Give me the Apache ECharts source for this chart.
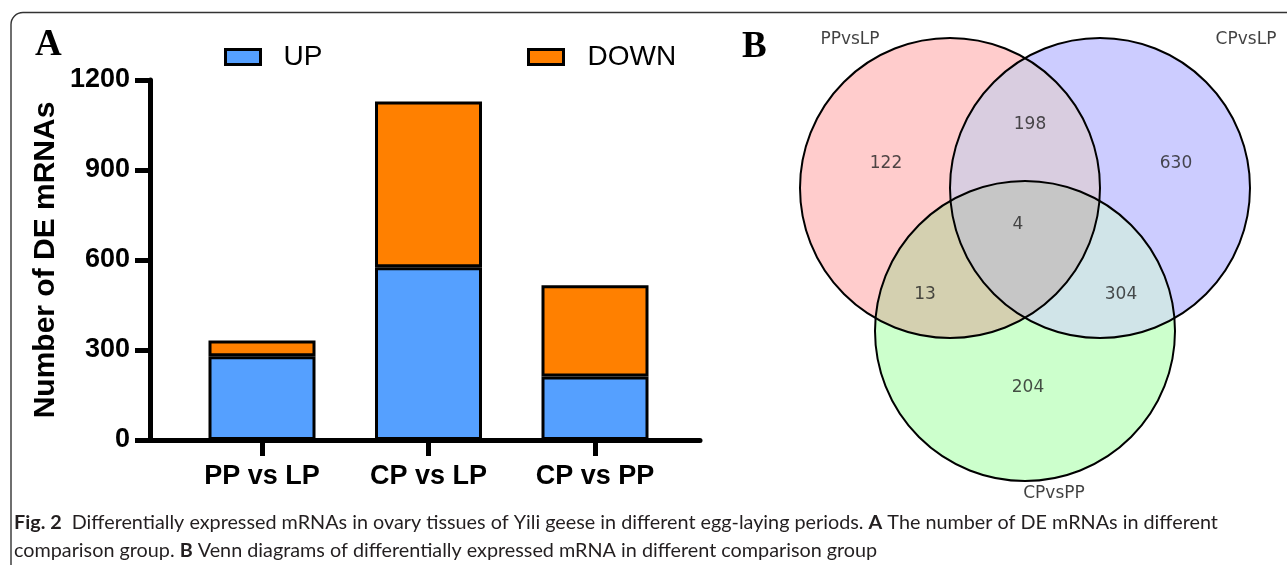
<!DOCTYPE html>
<html>
<head>
<meta charset="utf-8">
<script src="https://cdn.jsdelivr.net/npm/echarts@6/dist/echarts.min.js"></script>
<style>
  html, body { margin: 0; padding: 0; background: #fff; }
  #chart { width: 1287px; height: 565px; }
</style>
</head>
<body>
<div id="chart"></div>
<script>
// ---- Panel A: DE mRNA counts per comparison ----
const categories = ['PP vs LP', 'CP vs LP', 'CP vs PP'];
const upCounts = [279, 576, 212];
const downCounts = [53, 552, 304];
const seriesNames = ['UP', 'DOWN'];
const yMax = 1200;
const yStep = 300;
const yAxisTitle = 'Number of DE mRNAs';

// ---- Panel B: Venn diagram ----
const vennSetNames = ['PPvsLP', 'CPvsLP', 'CPvsPP'];
// region keys: which sets a region belongs to (0 = PPvsLP, 1 = CPvsLP, 2 = CPvsPP)
const vennRegionSets = [[0], [1], [2], [0, 1], [0, 2], [1, 2], [0, 1, 2]];
const vennRegionCounts = [122, 630, 204, 198, 13, 304, 4];

const captionLine1 = ['Fig. 2', 'Differentially expressed mRNAs in ovary tissues of Yili geese in different egg-laying periods.', 'A', 'The number of DE mRNAs in different'];
const captionLine2 = ['comparison group.', 'B', 'Venn diagrams of differentially expressed mRNA in different comparison group'];

// ---- layout & style (drawing units of the Venn grid) ----
const VENN = {
  radius: 150,
  centers: [[180, 168], [330, 168], [255, 311]],
  setLabelPos: [[80, 20], [476, 20], [284, 474]],
  regionLabelPos: [[116, 144], [406, 144], [258, 368], [260, 105], [155, 275], [351, 275], [248, 205]],
  setFill: ['#FFCCCC', '#CCCCFF', '#CCFFCC'],
  pairFill: { '0,1': '#D9CDE0', '0,2': '#D4D0B0', '1,2': '#D0E4E8' },
  tripleFill: '#C6C6C6'
};
const SANS = "'Liberation Sans', Arial, sans-serif";
const SERIF = "'Liberation Serif', 'Times New Roman', serif";
const CAPTION_FONT = "'Lato', sans-serif";

function circlePoly(api, center, r) {
  const c = api.coord(center);
  const rp = api.size([r, 0])[0];
  const pts = [];
  const n = 240;
  for (let i = 0; i < n; i++) {
    const t = (i / n) * Math.PI * 2;
    pts.push([c[0] + rp * Math.cos(t), c[1] + rp * Math.sin(t)]);
  }
  return pts;
}

// Sutherland–Hodgman clipping against a convex polygon
function clipPoly(subject, clip) {
  let area = 0;
  for (let i = 0; i < clip.length; i++) {
    const a = clip[i], b = clip[(i + 1) % clip.length];
    area += a[0] * b[1] - b[0] * a[1];
  }
  const s = area >= 0 ? 1 : -1;
  let out = subject;
  for (let i = 0; i < clip.length && out.length; i++) {
    const a = clip[i], b = clip[(i + 1) % clip.length];
    const inside = p => s * ((b[0] - a[0]) * (p[1] - a[1]) - (b[1] - a[1]) * (p[0] - a[0])) >= 0;
    const inter = (p, q) => {
      const dx = q[0] - p[0], dy = q[1] - p[1];
      const ex = b[0] - a[0], ey = b[1] - a[1];
      const den = dx * ey - dy * ex;
      const t = ((a[0] - p[0]) * ey - (a[1] - p[1]) * ex) / den;
      return [p[0] + t * dx, p[1] + t * dy];
    };
    const input = out;
    out = [];
    for (let j = 0; j < input.length; j++) {
      const cur = input[j], prev = input[(j + input.length - 1) % input.length];
      if (inside(cur)) {
        if (!inside(prev)) out.push(inter(prev, cur));
        out.push(cur);
      } else if (inside(prev)) {
        out.push(inter(prev, cur));
      }
    }
  }
  return out;
}

const chart = echarts.init(document.getElementById('chart'), null, { renderer: 'canvas' });

const legendBase = {
  icon: 'rect', top: 38, itemWidth: 35, itemHeight: 15,
  itemStyle: { borderColor: '#000', borderWidth: 3 }
};

const option = {
  backgroundColor: '#ffffff',
  animation: false,
  legend: [
    Object.assign({}, legendBase, {
      data: [seriesNames[0]], left: 219,
      textStyle: { fontFamily: SANS, fontSize: 28, color: '#000', padding: [0, 0, 0, 18] }
    }),
    Object.assign({}, legendBase, {
      data: [seriesNames[1]], left: 522,
      textStyle: { fontFamily: SANS, fontSize: 28, color: '#000', padding: [0, 0, 0, 19] }
    })
  ],
  grid: [
    { left: 150, top: 80, width: 550, height: 360 },          // axis frame
    { left: 178.75, top: 80, width: 499.5, height: 360 },     // bar bands
    { left: 770, top: 20, width: 500, height: 500 }           // Venn plane
  ],
  xAxis: [
    {
      gridIndex: 0, type: 'value', min: 0, max: 1,
      axisLine: { show: true, lineStyle: { color: '#000', width: 5 } },
      axisTick: { show: false }, axisLabel: { show: false }, splitLine: { show: false }
    },
    {
      gridIndex: 1, type: 'category', data: categories,
      axisLine: { show: false },
      axisTick: { show: true, alignWithLabel: true, length: 16, lineStyle: { color: '#000', width: 5 } },
      axisLabel: { fontFamily: SANS, fontWeight: 'bold', fontSize: 27, color: '#000', margin: 23 }
    },
    { gridIndex: 2, type: 'value', min: 0, max: 500, show: false }
  ],
  yAxis: [
    {
      gridIndex: 0, type: 'value', min: 0, max: yMax, interval: yStep,
      name: yAxisTitle, nameLocation: 'middle', nameGap: 89,
      nameTextStyle: { fontFamily: SANS, fontWeight: 'bold', fontSize: 30, color: '#000' },
      axisLine: { show: true, lineStyle: { color: '#000', width: 5 } },
      axisTick: { show: true, length: 15, lineStyle: { color: '#000', width: 5 } },
      axisLabel: { fontFamily: SANS, fontWeight: 'bold', fontSize: 27, color: '#000', margin: 20, formatter: v => String(v) },
      splitLine: { show: false }
    },
    { gridIndex: 1, type: 'value', min: 0, max: yMax, interval: yStep, show: false },
    { gridIndex: 2, type: 'value', min: 0, max: 500, inverse: true, show: false }
  ],
  series: [
    {
      name: seriesNames[0], type: 'bar', xAxisIndex: 1, yAxisIndex: 1, stack: 'total',
      barWidth: 107, data: upCounts,
      itemStyle: { color: '#55A0FF', borderColor: '#000', borderWidth: 3 }
    },
    {
      name: seriesNames[1], type: 'bar', xAxisIndex: 1, yAxisIndex: 1, stack: 'total',
      barWidth: 107, data: downCounts,
      itemStyle: { color: '#FF8000', borderColor: '#000', borderWidth: 3 }
    },
    {
      // Venn fills: whole circles first, then pairwise lenses, then the triple overlap
      type: 'custom', xAxisIndex: 2, yAxisIndex: 2, silent: true,
      data: vennRegionSets.map((p, i) => [i]),
      renderItem: function (params, api) {
        const members = vennRegionSets[params.dataIndex];
        let poly = circlePoly(api, VENN.centers[members[0]], VENN.radius);
        for (let k = 1; k < members.length; k++) {
          poly = clipPoly(poly, circlePoly(api, VENN.centers[members[k]], VENN.radius));
        }
        let fill;
        if (members.length === 1) fill = VENN.setFill[members[0]];
        else if (members.length === 2) fill = VENN.pairFill[members.join(',')];
        else fill = VENN.tripleFill;
        return { type: 'polygon', shape: { points: poly }, style: { fill: fill, stroke: null } };
      }
    },
    {
      // Venn outlines
      type: 'custom', xAxisIndex: 2, yAxisIndex: 2, silent: true,
      data: vennSetNames.map((n, i) => [i]),
      renderItem: function (params, api) {
        const c = api.coord(VENN.centers[params.dataIndex]);
        const rp = api.size([VENN.radius, 0])[0];
        return { type: 'circle', shape: { cx: c[0], cy: c[1], r: rp }, style: { fill: null, stroke: '#000', lineWidth: 2 } };
      }
    },
    {
      // region counts
      type: 'scatter', xAxisIndex: 2, yAxisIndex: 2, symbolSize: 0, silent: true,
      data: vennRegionCounts.map((v, i) => ({ value: [VENN.regionLabelPos[i][0], VENN.regionLabelPos[i][1], v] })),
      label: {
        show: true, position: 'inside', formatter: p => String(p.value[2]),
        fontFamily: "'DejaVu Sans', sans-serif", fontSize: 17, color: '#222'
      }
    },
    {
      // set names
      type: 'scatter', xAxisIndex: 2, yAxisIndex: 2, symbolSize: 0, silent: true,
      data: vennSetNames.map((n, i) => ({ name: n, value: VENN.setLabelPos[i] })),
      label: {
        show: true, position: 'inside', formatter: p => p.name,
        fontFamily: "'DejaVu Sans', sans-serif", fontSize: 17, color: '#111'
      }
    }
  ],
  graphic: [
    {
      type: 'rect', silent: true,
      shape: { x: 11, y: 12.5, width: 1500, height: 800, r: 12 },
      style: { fill: null, stroke: '#333', lineWidth: 1.4 }
    },
    { type: 'text', left: 35, top: 27, style: { text: 'A', font: "bold 37px " + SERIF, fill: '#000' } },
    { type: 'text', left: 742, top: 29, style: { text: 'B', font: "bold 37px " + SERIF, fill: '#000' } },
    {
      type: 'text', left: 14, top: 513,
      style: {
        text: '{b|' + captionLine1[0] + '}  ' + captionLine1[1] + ' {b|' + captionLine1[2] + '} ' + captionLine1[3],
        font: "19.8px " + CAPTION_FONT, fill: '#231f20',
        rich: { b: { font: "bold 19.8px " + CAPTION_FONT, fill: '#231f20' } }
      }
    },
    {
      type: 'text', left: 14, top: 541,
      style: {
        text: captionLine2[0] + ' {b|' + captionLine2[1] + '} ' + captionLine2[2],
        font: "19.8px " + CAPTION_FONT, fill: '#231f20',
        rich: { b: { font: "bold 19.8px " + CAPTION_FONT, fill: '#231f20' } }
      }
    }
  ]
};

chart.setOption(option);
</script>
</body>
</html>
